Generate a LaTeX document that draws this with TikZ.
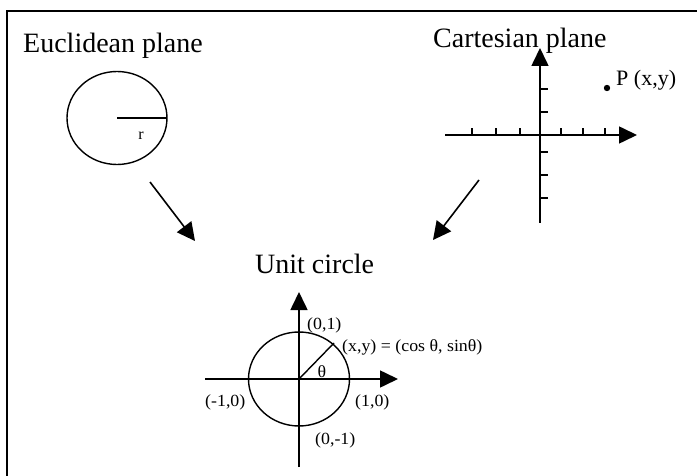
\documentclass[tikz,border=0pt]{standalone}
\usepackage{fontspec}
\setmainfont{Liberation Serif}
\usetikzlibrary{arrows.meta}
\tikzset{
  titre/.style={font=\fontsize{28}{30}\selectfont, inner sep=0pt},
  etiq/.style={font=\fontsize{17}{19}\selectfont, inner sep=0pt, xscale=1.05},
  axe/.style={line width=1.6pt, -{Triangle[length=18pt,width=17pt]}},
  fleche/.style={line width=1.6pt, -{Triangle[length=18pt,width=18pt]}},
}
\begin{document}
\begin{tikzpicture}[x=1pt,y=-1pt]
            \useasboundingbox (0,0) rectangle (697,476);
            % Le cadre (seulement haut et gauche)
            \draw[line width=2.2pt] (7,476) -- (7,11) -- (697,11);

            % Plan euclidien
            \node[titre, anchor=base west] (tEuc) at (23,53) {Euclidean plane};
            \coordinate (E0) at (117,118);
            \draw[line width=1.4pt] (E0) ellipse [x radius=50, y radius=46.5];
            \coordinate (E1) at (167,118);
            \draw[line width=1.4pt] (E0) -- (E1);
            \node[font=\fontsize{16}{18}\selectfont, inner sep=0pt] (r) at (141,136) {r};

            % Plan cartesien
            \node[titre, anchor=base west] (tCar) at (433,48) {Cartesian plane};
            \coordinate (O) at (540,135);
            \coordinate (Xg) at (445,135);
            \coordinate (Xd) at (637,135);
            \coordinate (Yb) at (540,223);
            \coordinate (Yh) at (540,48);
            \draw[axe] (Xg) -- (Xd);
            \draw[axe] (Yb) -- (Yh);
            \foreach \x in {472,496,520,561,583,605}
              \draw[line width=1.3pt] (\x,135) -- (\x,128);
            \foreach \y in {89,112,152,175,198}
              \draw[line width=1.3pt] (540,\y) -- (548,\y);
            \fill (607,88) circle (3.2);
            \node[font=\fontsize{22}{24}\selectfont, inner sep=0pt, anchor=base west] (P) at (616,86) {P (x,y)};

            % Les fleches vers le cercle unite
            \coordinate (F1a) at (150,182);
            \coordinate (F1b) at (195,241);
            \coordinate (F2a) at (479,180);
            \coordinate (F2b) at (433,240);
            \draw[fleche] (F1a) -- (F1b);
            \draw[fleche] (F2a) -- (F2b);

            % Cercle unite
            \node[titre, anchor=base west] (tUni) at (255,273) {Unit circle};
            \coordinate (C) at (299,379);
            \coordinate (Ug) at (205,379);
            \coordinate (Ud) at (398,379);
            \coordinate (Ub) at (299,467);
            \coordinate (Uh) at (299,292);
            \draw[axe] (Ug) -- (Ud);
            \draw[axe] (Ub) -- (Uh);
            \draw[line width=1.4pt] (C) ellipse [x radius=50.5, y radius=47];
            \coordinate (M) at (334,343);
            \draw[line width=1.4pt] (C) -- (M);
            \node[etiq] (theta) at (322,372) {θ};
            \node[etiq, anchor=west] (haut) at (307,325) {(0,1)};
            \node[etiq, anchor=west] (pt) at (342,347) {(x,y) = (cos θ, sinθ)};
            \node[etiq, anchor=west] (gauche) at (205,402) {(-1,0)};
            \node[etiq, anchor=west] (droite) at (355,402) {(1,0)};
            \node[etiq, anchor=west] (bas) at (315,440) {(0,-1)};
\end{tikzpicture}
\end{document}
